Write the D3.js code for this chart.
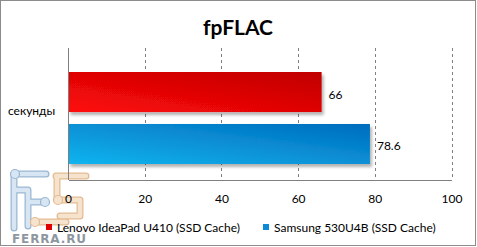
<!DOCTYPE html>
<html><head><meta charset="utf-8">
<script src="https://cdn.jsdelivr.net/npm/d3@7"></script>
<style>body{margin:0;background:#fff}svg{display:block}</style>
</head><body>
<script>
const title = "fpFLAC";
const categories = ["секунды"];
const series = ["Lenovo IdeaPad U410 (SSD Cache)", "Samsung 530U4B (SSD Cache)"];
const values = [66, 78.6];
const valueLabels = ["66", "78.6"];
const ticks = [0, 20, 40, 60, 80, 100];
const colors = [["#ff0a0a", "#c00000"], ["#12b4ef", "#006cbc"]];
const legendColors = ["#e00000", "#0a8ad8"];

const W = 477, H = 247;
const svg = d3.select("body").append("svg").attr("width", W).attr("height", H);
const font = "Lato, 'Open Sans', sans-serif";

const defs = svg.append("defs");
colors.forEach((c, i) => {
  const g = defs.append("linearGradient").attr("id", "g" + i)
    .attr("x1", "0%").attr("y1", "100%").attr("x2", "100%").attr("y2", "0%");
  g.append("stop").attr("offset", "0%").attr("stop-color", c[0]);
  g.append("stop").attr("offset", "100%").attr("stop-color", c[1]);
});
const f = defs.append("filter").attr("id", "sh").attr("x", "-5%").attr("y", "-10%").attr("width", "115%").attr("height", "140%");
f.append("feDropShadow").attr("dx", 2).attr("dy", 3).attr("stdDeviation", 1.5).attr("flood-color", "#000").attr("flood-opacity", 0.3);

svg.append("rect").attr("x", 0.5).attr("y", 0.5).attr("width", W - 2).attr("height", H - 2)
  .attr("fill", "#fff").attr("stroke", "#8c8c8c");

// watermark (decorative)
const wm = svg.append("g").attr("opacity", 0.9).attr("fill", "none").attr("stroke-linecap", "round").attr("stroke-linejoin", "round");
const blueP = "M14,174 H46 M14,174 V228 M14,190 H28 V200 M28,202 H44 M28,202 V226";
const orP = "M56,176 H86 M57,176 V200 H80 V216 H60 M35,222 H66";
[[blueP, "#8fb0cf", "#d4e3f1"], [orP, "#e0b488", "#f6e1c8"]].forEach(([p, dark, light]) => {
  wm.append("path").attr("d", p).attr("stroke", dark).attr("stroke-width", 7);
  wm.append("path").attr("d", p).attr("stroke", light).attr("stroke-width", 4.5);
});
[[15, 174, "#d4e3f1", "#8fb0cf"], [45, 202, "#d4e3f1", "#8fb0cf"], [35, 222, "#f6e1c8", "#e0b488"], [58, 200, "#f6e1c8", "#e0b488"]].forEach(([cx, cy, fl, st]) => {
  wm.append("circle").attr("cx", cx).attr("cy", cy).attr("r", 4.5).attr("fill", fl).attr("stroke", st).attr("stroke-width", 1.2);
});
svg.append("text").attr("x", 12).attr("y", 243).attr("font-family", "'DejaVu Sans', sans-serif")
  .attr("font-size", 12).attr("font-weight", "bold").attr("fill", "#8e979f")
  .attr("textLength", 74).text("FERRA.RU");

const x = d3.scaleLinear().domain([0, 100]).range([68.5, 452]);
const yCat = d3.scaleBand().domain(categories).range([48, 180]);
const ySer = d3.scaleBand().domain(series).range([24, 116]).paddingInner(0.23);

svg.append("text").attr("x", 238).attr("y", 26).attr("text-anchor", "middle")
  .attr("dominant-baseline", "central").attr("font-family", font).attr("font-weight", "bold")
  .attr("font-size", 21).attr("fill", "#000").text(title);

// gridlines
svg.append("g").selectAll("line").data(ticks.slice(1)).join("line")
  .attr("x1", d => x(d)).attr("x2", d => x(d)).attr("y1", yCat.range()[0]).attr("y2", yCat.range()[1])
  .attr("stroke", "#808080").attr("stroke-dasharray", "3,3").attr("shape-rendering", "crispEdges");

// bars
const cat = categories[0];
svg.append("g").selectAll("rect").data(values).join("rect")
  .attr("x", x(0)).attr("y", (d, i) => yCat(cat) + ySer(series[i]))
  .attr("width", d => x(d) - x(0)).attr("height", ySer.bandwidth())
  .attr("fill", (d, i) => `url(#g${i})`).attr("filter", "url(#sh)");

svg.append("g").selectAll("text").data(values).join("text")
  .attr("x", d => x(d) + 7).attr("y", (d, i) => yCat(cat) + ySer(series[i]) + ySer.bandwidth() / 2 + 2)
  .attr("dominant-baseline", "central").attr("font-family", font).attr("font-size", 12).attr("fill", "#000")
  .text((d, i) => valueLabels[i]);

// axes lines
const axis = svg.append("g").attr("stroke", "#808080").attr("shape-rendering", "crispEdges");
axis.append("line").attr("x1", x(0)).attr("x2", x(0)).attr("y1", yCat.range()[0]).attr("y2", yCat.range()[1]);
axis.append("line").attr("x1", x(0)).attr("x2", x(100)).attr("y1", yCat.range()[1]).attr("y2", yCat.range()[1]);

svg.append("g").selectAll("text").data(ticks).join("text")
  .attr("x", d => x(d)).attr("y", 198).attr("text-anchor", "middle").attr("dominant-baseline", "central")
  .attr("font-family", font).attr("font-size", 12).attr("fill", "#000").text(d => d);

svg.append("text").attr("x", 8).attr("y", yCat(cat) + yCat.bandwidth() / 2 - 4)
  .attr("dominant-baseline", "central").attr("font-family", font).attr("font-size", 12).attr("fill", "#000").text(cat);

// legend
const legX = [46, 263];
const lg = svg.append("g").selectAll("g").data(series).join("g")
  .attr("transform", (d, i) => `translate(${legX[i]},227)`);
lg.append("rect").attr("x", 0).attr("y", -3).attr("width", 6).attr("height", 6).attr("fill", (d, i) => legendColors[i]);
lg.append("text").attr("x", 11).attr("y", 0).attr("dominant-baseline", "central")
  .attr("font-family", font).attr("font-size", 12).attr("fill", "#000").text(d => d);
</script>
</body></html>
